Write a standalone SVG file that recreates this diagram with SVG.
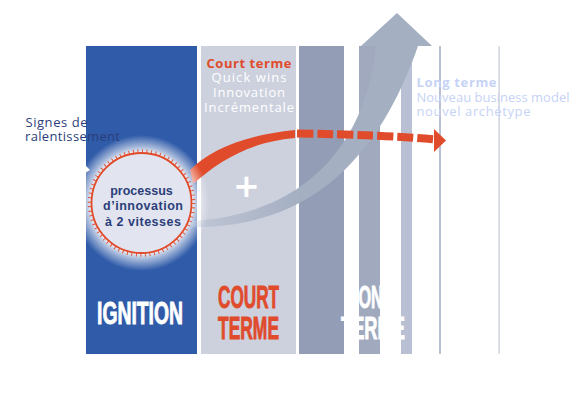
<svg xmlns="http://www.w3.org/2000/svg" width="580" height="406" viewBox="0 0 580 406">
<defs>
<style>
.t{font-family:"Open Sans","Liberation Sans",sans-serif;font-size:13px}
.c{font-family:"Liberation Sans",Arial,sans-serif;font-weight:bold;font-size:12.5px}
.b{font-weight:bold}
.big{font-family:"Liberation Sans Narrow","Liberation Sans",sans-serif;font-weight:bold;font-size:30.5px;stroke-width:0.9}
.or{fill:#e04b2b}
.nv{fill:#2c3e7a}
.wh{fill:#ffffff}
.lb{fill:#c6d3f6}
</style>
<linearGradient id="bandg" gradientUnits="userSpaceOnUse" x1="192" y1="0" x2="300" y2="0">
<stop offset="0" stop-color="#a4afc2" stop-opacity="0.3"/>
<stop offset="1" stop-color="#a4afc2" stop-opacity="1"/>
</linearGradient>
<radialGradient id="glow" cx="141.5" cy="203" r="68" gradientUnits="userSpaceOnUse">
<stop offset="0.72" stop-color="#ffffff" stop-opacity="1"/>
<stop offset="0.82" stop-color="#ffffff" stop-opacity="0.6"/>
<stop offset="1" stop-color="#ffffff" stop-opacity="0"/>
</radialGradient>
</defs>

<g id="columns">
<rect x="86" y="46" width="111" height="308" fill="#2f5ba9"/>
<rect x="201" y="46" width="95" height="308" fill="#cdd1de"/>
<rect x="299" y="46" width="45" height="308" fill="#939db6"/>
<rect x="359" y="46" width="21" height="308" fill="#a0a9be"/>
<rect x="401" y="46" width="11" height="308" fill="#b9c0d3"/>
<rect x="439" y="46" width="2" height="308" fill="#b9c0d3"/>
<rect x="498.5" y="46" width="1.2" height="308" fill="#c3c9d8"/>
<polygon points="85,165 90,170 85,173" fill="#ffffff"/>
</g>

<g id="connectors">
<path d="M376,46 L418,46 C375,170 300,228 192,227 L192,221 C300,215 365,150 376,46 Z" fill="url(#bandg)"/>
<polygon points="361,46 397,13 432,46" fill="#a4afc2"/>
<path d="M190,170 C210,150 245,135 295,130 L295,138 C250,142 220,160 193,184 Z" fill="#e04b2b"/>
<path d="M297,133.5 Q380,134.5 436,139.5" fill="none" stroke="#e04b2b" stroke-width="8" stroke-dasharray="16 4"/>
<polygon points="434,129 446,140.5 434,152" fill="#e04b2b"/>
</g>

<g id="circle">
<circle cx="141.5" cy="203" r="68" fill="url(#glow)"/>
<circle cx="141.5" cy="203" r="50" fill="#e2e5ef" stroke="#e04b2b" stroke-width="1.8"/>
<circle cx="141.5" cy="203" r="52" fill="none" stroke="#e04b2b" stroke-width="3.5" stroke-dasharray="0.9 3.64"/>
<text class="c nv" x="141.5" y="194.5" text-anchor="middle">processus</text>
<text class="c nv" x="143" y="210" text-anchor="middle" textLength="80">d’innovation</text>
<text class="c nv" x="143" y="225.5" text-anchor="middle" textLength="76">à 2 vitesses</text>
</g>

<g id="signes">
<text class="t nv" font-size="14" x="25.5" y="127" textLength="62">Signes de</text>
<text class="t nv" font-size="14" x="25" y="141" textLength="95">ralentissement</text>
</g>

<g id="court">
<text class="t b or" x="249" y="67.5" text-anchor="middle" textLength="85">Court terme</text>
<text class="t wh" x="249" y="82" text-anchor="middle" textLength="75">Quick wins</text>
<text class="t wh" x="249" y="97" text-anchor="middle" textLength="72">Innovation</text>
<text class="t wh" x="249" y="112" text-anchor="middle" textLength="90">Incrémentale</text>
<text x="246.5" y="197" text-anchor="middle" font-family="DejaVu Sans" font-weight="bold" font-size="32" fill="#ffffff">+</text>
</g>

<g id="long">
<text class="t b lb" x="416.5" y="87" textLength="80">Long terme</text>
<text class="t lb" x="416.5" y="101.5" textLength="153">Nouveau business model</text>
<text class="t lb" x="416.5" y="116" textLength="114">nouvel archétype</text>
</g>

<g id="labels">
<text class="big wh" stroke="#ffffff" x="140" y="324" text-anchor="middle" textLength="86" lengthAdjust="spacingAndGlyphs">IGNITION</text>
<text class="big or" stroke="#e04b2b" x="248.5" y="308" text-anchor="middle" textLength="61" lengthAdjust="spacingAndGlyphs">COURT</text>
<text class="big or" stroke="#e04b2b" x="248.5" y="339" text-anchor="middle" textLength="61" lengthAdjust="spacingAndGlyphs">TERME</text>
<text class="big wh" stroke="#ffffff" x="372" y="308" text-anchor="middle" textLength="47" lengthAdjust="spacingAndGlyphs">LONG</text>
<text class="big wh" stroke="#ffffff" x="373" y="339" text-anchor="middle" textLength="64" lengthAdjust="spacingAndGlyphs">TERME</text>
</g>
</svg>
